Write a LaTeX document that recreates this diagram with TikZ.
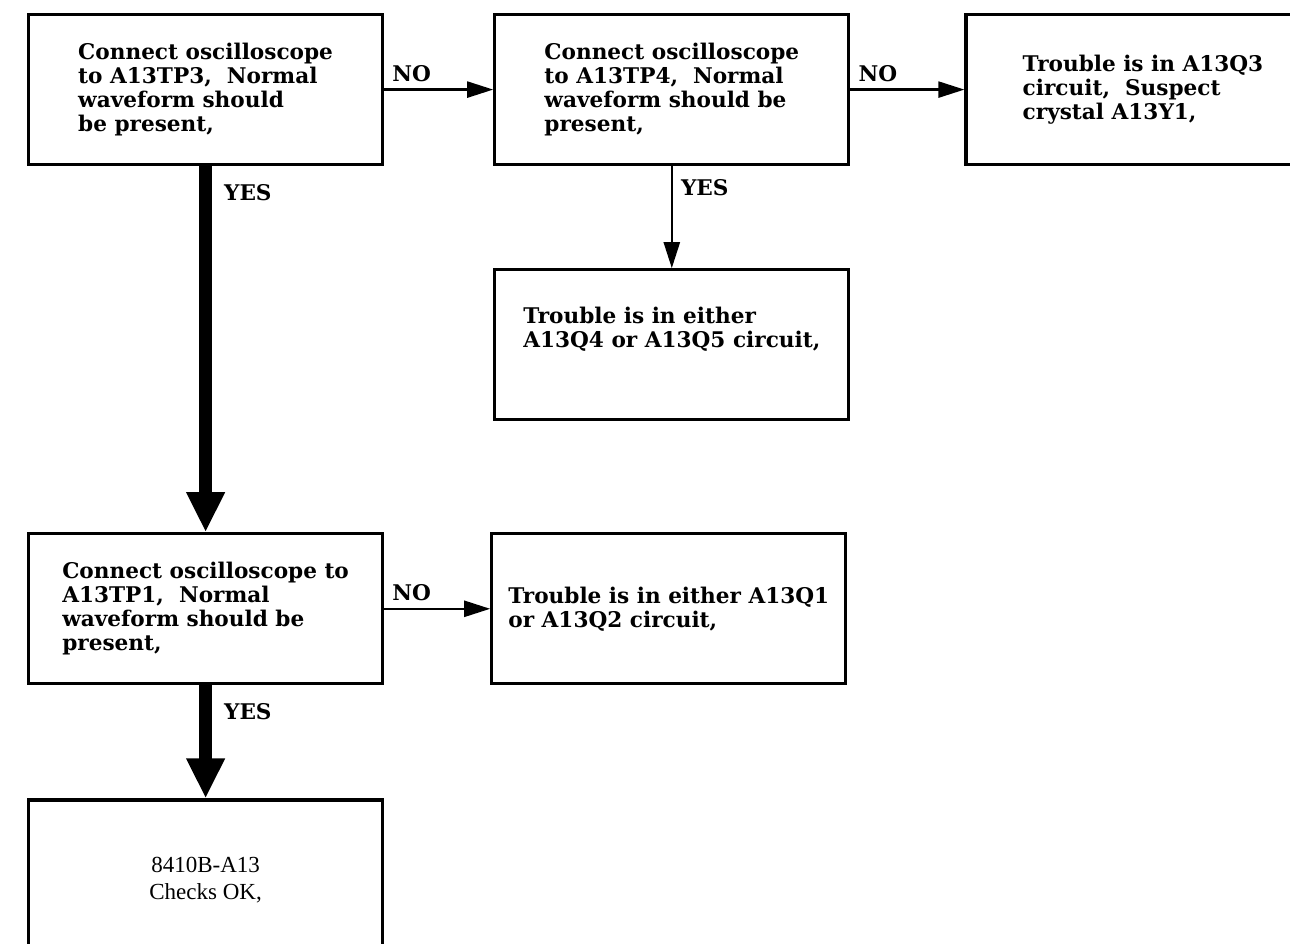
\documentclass[tikz,border=0pt]{standalone}
\usepackage{fontspec}
\setmainfont{DejaVu Serif}
\newfontfamily\okfont{Liberation Serif}
\usetikzlibrary{positioning, arrows.meta}

\begin{document}
\begin{tikzpicture}[
        >={Triangle[width=8pt,length=13pt]},
        every node/.style={font=\fontsize{10.8}{12}\selectfont\bfseries, align=left, text=black},
        checkbox/.style={draw=black, line width=1.6pt, minimum width=177pt, minimum height=75pt},
        faultbox/.style={checkbox},
        endbox/.style={checkbox, minimum height=80pt, align=center, font=\okfont\fontsize{11.5}{13.5}\selectfont},
        yes/.style={inner sep=2pt},
        no/.style={inner sep=2pt},
        line/.style={->, line width=1.2pt},
        mainline/.style={-{Triangle[width=18pt,length=20pt]}, line width=6.5pt}
    ]
        \useasboundingbox (0,0) rectangle (645pt,471.5pt);

        \node[checkbox, anchor=north west] (tp3) at (13.5pt,465pt) {Connect oscilloscope\\to A13TP3,\ \ Normal\\waveform should\\be present,};
        \node[checkbox, right=54.5pt of tp3] (tp4) {Connect oscilloscope\\to A13TP4,\ \ Normal\\waveform should be\\present,};
        \node[faultbox, right=57pt of tp4] (q3) {Trouble is in A13Q3\\circuit,\ \ Suspect\\crystal A13Y1,};
        \node[faultbox, below=51pt of tp4, text depth=18pt] (q45) {Trouble is in either\\A13Q4 or A13Q5 circuit,};
        \node[checkbox, below=183pt of tp3] (tp1) {Connect oscilloscope to\\A13TP1,\ \ Normal\\waveform should be\\present,};
        \node[faultbox, right=53pt of tp1] (q12) {Trouble is in either A13Q1\\or A13Q2 circuit,};
        \node[endbox, below=56.5pt of tp1] (ok) {8410B-A13\\Checks OK,};

        \draw[line] (tp3) -- node[pos=0, above right=1.5pt and 1.5pt, no] {NO} (tp4);
        \draw[line] (tp4) -- node[pos=0, above right=1.5pt and 1.5pt, no] {NO} (q3);
        \draw[line] (tp4) -- node[pos=0, below right=4pt and 2pt, yes] {YES} (q45);
        \draw[mainline] (tp3) -- node[pos=0, below right=4pt and 4pt, yes] {YES} (tp1);
        \draw[line] (tp1) -- node[pos=0, above right=1.5pt and 1.5pt, no] {NO} (q12);
        \draw[mainline] (tp1) -- node[pos=0, below right=4pt and 4pt, yes] {YES} (ok);
    \end{tikzpicture}
\end{document}
